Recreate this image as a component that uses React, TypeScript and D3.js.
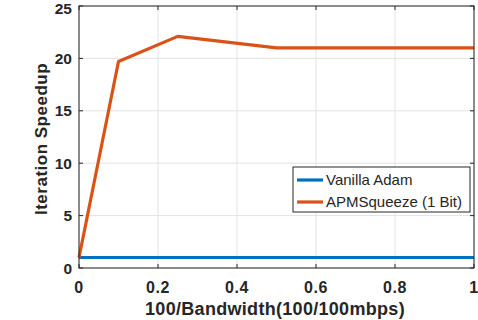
import React from "react";
import * as d3 from "d3";

const xValues = [0, 0.1, 0.25, 0.5, 1];
const vanillaAdam = [1, 1, 1, 1, 1];
const apmSqueeze = [1, 19.7, 22.1, 21, 21];
const xTicks = [0, 0.2, 0.4, 0.6, 0.8, 1];
const yTicks = [0, 5, 10, 15, 20, 25];
const seriesNames = ["Vanilla Adam", "APMSqueeze (1 Bit)"];
const seriesColors = ["#0072BD", "#D95319"];

export default function App() {
  const W = 478, H = 320;
  const m = { l: 79, r: 474, t: 6, b: 268 };
  const x = d3.scaleLinear().domain([0, 1]).range([m.l, m.r]);
  const y = d3.scaleLinear().domain([0, 25]).range([m.b, m.t]);
  const line = d3.line<[number, number]>().x(d => x(d[0])).y(d => y(d[1]));
  const series = [vanillaAdam, apmSqueeze];
  const axisColor = "#262626";
  const font = "'Liberation Sans', Arial, Helvetica, sans-serif";
  return (
    <svg width={W} height={H} style={{ position: "absolute", left: 0, top: 0 }} fontFamily={font}>
      <rect x={0} y={0} width={W} height={H} fill="#fff" />
      {xTicks.map(t => (
        <line key={"gx" + t} x1={x(t)} x2={x(t)} y1={m.t} y2={m.b} stroke="#e3e3e3" strokeWidth={1} />
      ))}
      {yTicks.map(t => (
        <line key={"gy" + t} x1={m.l} x2={m.r} y1={y(t)} y2={y(t)} stroke="#e3e3e3" strokeWidth={1} />
      ))}
      {series.map((s, i) => (
        <path key={i} d={line(xValues.map((v, j) => [v, s[j]] as [number, number])) || ""}
          fill="none" stroke={seriesColors[i]} strokeWidth={3.2} strokeLinejoin="round" />
      ))}
      <rect x={m.l} y={m.t} width={m.r - m.l} height={m.b - m.t} fill="none" stroke={axisColor} strokeWidth={1} />
      {xTicks.map(t => (
        <g key={"tx" + t}>
          <line x1={x(t)} x2={x(t)} y1={m.b} y2={m.b - 4} stroke={axisColor} />
          <line x1={x(t)} x2={x(t)} y1={m.t} y2={m.t + 4} stroke={axisColor} />
          <text x={x(t)} y={293} textAnchor="middle" fontSize={16} letterSpacing={0.6} fontWeight="bold" fill={axisColor}>{d3.format("~g")(t)}</text>
        </g>
      ))}
      {yTicks.map(t => (
        <g key={"ty" + t}>
          <line x1={m.l} x2={m.l + 4} y1={y(t)} y2={y(t)} stroke={axisColor} />
          <line x1={m.r} x2={m.r - 4} y1={y(t)} y2={y(t)} stroke={axisColor} />
          <text x={72} y={Math.max(y(t) + 5.5, 14)} textAnchor="end" fontSize={15.5} fontWeight="bold" fill={axisColor}>{t}</text>
        </g>
      ))}
      <text x={275} y={315} textAnchor="middle" fontSize={18} letterSpacing={0.3} fontWeight="bold" fill={axisColor}>100/Bandwidth(100/100mbps)</text>
      <text transform={`translate(47,139) rotate(-90)`} textAnchor="middle" fontSize={17} letterSpacing={0.5} fontWeight="bold" fill={axisColor}>Iteration Speedup</text>
      <g>
        <rect x={293} y={167} width={177} height={45} fill="#fff" stroke={axisColor} strokeWidth={1} />
        {seriesNames.map((n, i) => (
          <g key={n}>
            <line x1={297} x2={323} y1={180 + i * 22} y2={180 + i * 22} stroke={seriesColors[i]} strokeWidth={3.2} />
            <text x={326} y={185 + i * 22} fontSize={15} fill={axisColor}>{n}</text>
          </g>
        ))}
      </g>
    </svg>
  );
}
